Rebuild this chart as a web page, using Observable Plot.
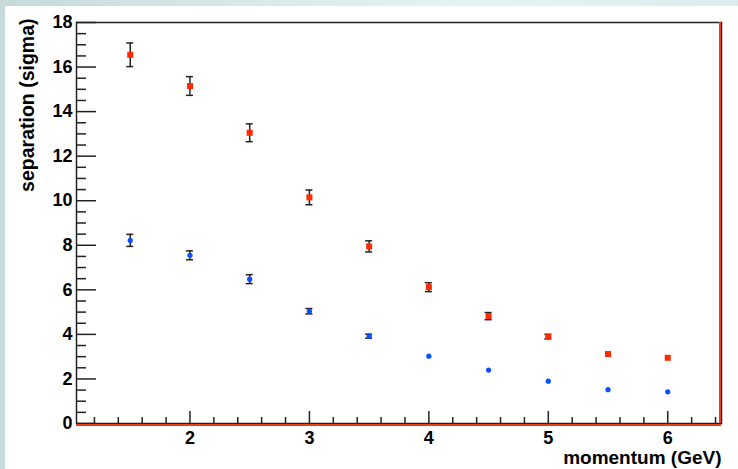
<!DOCTYPE html>
<html><head><meta charset="utf-8">
<script src="https://cdn.jsdelivr.net/npm/d3@7"></script>
<script src="https://cdn.jsdelivr.net/npm/@observablehq/plot@0.6"></script>
<style>
html,body{margin:0;padding:0;}
body{width:738px;height:469px;overflow:hidden;position:relative;
 background:linear-gradient(90deg,#c6dadb 0%,#d9e9ea 35%,#e6f3f4 65%,#dcecee 100%);}
#panel{position:absolute;left:5px;top:6px;right:0;bottom:0;background:#fff;}
#chart{position:absolute;left:0;top:0;}
</style></head><body><div id="panel"></div><div id="chart"></div>
<script>
const momentum = [1.5, 2, 2.5, 3, 3.5, 4, 4.5, 5, 5.5, 6];
const sepRed  = [16.55, 15.15, 13.05, 10.15, 7.95, 6.12, 4.82, 3.9, 3.12, 2.95];
const errRed  = [0.53, 0.42, 0.4, 0.33, 0.25, 0.2, 0.16, 0.1, 0, 0];
const sepBlue = [8.22, 7.55, 6.48, 5.04, 3.92, 3.02, 2.4, 1.9, 1.52, 1.42];
const errBlue = [0.27, 0.2, 0.2, 0.12, 0.09, 0, 0, 0, 0, 0];
const xDomain = [1.05, 6.45];
const yDomain = [0, 18];
const xMajor = [2, 3, 4, 5, 6];
const xMinor = [1.2,1.4,1.6,1.8, 2.2,2.4,2.6,2.8, 3.2,3.4,3.6,3.8, 4.2,4.4,4.6,4.8, 5.2,5.4,5.6,5.8, 6.2,6.4];
const yMajor = [0, 2, 4, 6, 8, 10, 12, 14, 16, 18];
const yMinor = [0.5,1,1.5, 2.5,3,3.5, 4.5,5,5.5, 6.5,7,7.5, 8.5,9,9.5, 10.5,11,11.5, 12.5,13,13.5, 14.5,15,15.5, 16.5,17,17.5];
const xTitle = "momentum (GeV)";
const yTitle = "separation (sigma)";

const red = momentum.map((x, i) => ({x, y: sepRed[i], e: errRed[i]}));
const blue = momentum.map((x, i) => ({x, y: sepBlue[i], e: errBlue[i]}));
const redErr = red.filter(d => d.e > 0);
const blueErr = blue.filter(d => d.e > 0);

const RED = "#ff2a00", BLUE = "#0a50ff", INK = "#222";
const font = "'Liberation Sans', Arial, Helvetica, sans-serif";
const fmt = d => String(d);

const errMarks = (data) => [
  Plot.ruleX(data, {x: "x", y1: d => d.y - d.e, y2: d => d.y + d.e, stroke: INK, strokeWidth: 1.5}),
  Plot.ruleY(data, {y: d => d.y + d.e, x1: "x", x2: "x", insetLeft: -3.5, insetRight: -3.5, stroke: INK, strokeWidth: 1.5}),
  Plot.ruleY(data, {y: d => d.y - d.e, x1: "x", x2: "x", insetLeft: -3.5, insetRight: -3.5, stroke: INK, strokeWidth: 1.5})
];

const chart = Plot.plot({
  width: 738, height: 469,
  marginLeft: 76, marginRight: 17, marginTop: 22, marginBottom: 46,
  style: {background: "transparent", fontFamily: font, color: "#000"},
  x: {domain: xDomain, label: null},
  y: {domain: yDomain, label: null},
  marks: [
    Plot.axisX(xMinor, {tickSize: -6, tickFormat: () => "", stroke: INK, strokeWidth: 1.5, label: null}),
    Plot.axisX(xMajor, {tickSize: -12, tickFormat: () => "", stroke: INK, strokeWidth: 1.5, label: null}),
    Plot.axisX(xMajor, {tickSize: 0, tickPadding: 8, tickFormat: fmt, fontSize: 18, fontWeight: "bold", label: null}),
    Plot.axisY(yMinor, {tickSize: -10, tickFormat: () => "", stroke: INK, strokeWidth: 1.5, label: null}),
    Plot.axisY(yMajor, {tickSize: -20, tickFormat: () => "", stroke: INK, strokeWidth: 1.5, label: null}),
    Plot.axisY(yMajor, {tickSize: 0, tickPadding: 4, tickFormat: fmt, fontSize: 18, fontWeight: "bold", label: null}),
    Plot.frame({stroke: INK, strokeWidth: 1.5}),
    Plot.ruleY([yDomain[0]], {stroke: "#e8401c", strokeWidth: 2, dy: 1.5}),
    Plot.ruleX([xDomain[1]], {stroke: "#e8401c", strokeWidth: 2, dx: -1.5}),
    ...errMarks(redErr),
    ...errMarks(blueErr),
    Plot.dot(red, {x: "x", y: "y", symbol: "square", r: 3.4, fill: RED, stroke: null}),
    Plot.dot(blue, {x: "x", y: "y", symbol: "circle", r: 2.6, fill: BLUE, stroke: null}),
    Plot.text([xTitle], {frameAnchor: "bottom-right", textAnchor: "end", lineAnchor: "middle", dy: 34, dx: 0, fontSize: 19, fontWeight: "bold"}),
    Plot.text([yTitle], {frameAnchor: "top-left", rotate: -90, textAnchor: "end", lineAnchor: "middle", dx: -49, dy: -4, fontSize: 19.5, fontWeight: "bold"})
  ]
});
document.getElementById("chart").appendChild(chart);
</script>
</body></html>
